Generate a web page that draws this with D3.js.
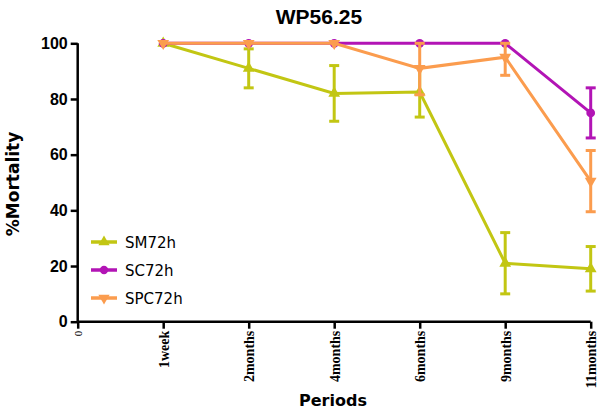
<!DOCTYPE html>
<html><head><meta charset="utf-8">
<script src="https://cdn.jsdelivr.net/npm/d3@7"></script>
<style>body{margin:0;background:#fff}svg{display:block}</style>
</head><body>
<script>
const periods = ["0","1week","2months","4months","6months","9months","11months"];
const periodIdx = [1,2,3,4,5,6];
const seriesNames = ["SM72h","SC72h","SPC72h"];
const smValues  = [100, 91, 82, 82.5, 21, 19];
const smErr     = [0, 7, 10, 9, 11, 8];
const scValues  = [100, 100, 100, 100, 100, 75];
const scErr     = [0, 0, 0, 0, 0, 9];
const spcValues = [100, 100, 100, 91, 95, 50.5];
const spcErr    = [0, 0, 0, 9.5, 6.5, 11];
const yTicks = [0,20,40,60,80,100];
const colors = {SM72h:"#c2c613", SC72h:"#b214b5", SPC72h:"#fb9c4e"};
const symbols = {SM72h:d3.symbolTriangle, SC72h:d3.symbolCircle, SPC72h:"down"};

const W=598,H=412;
const svg=d3.select("body").append("svg").attr("width",W).attr("height",H);
const x=d3.scaleLinear().domain([0,6]).range([77.7,590.7]);
const y=d3.scaleLinear().domain([0,100]).range([321.7,43.3]);

// title
svg.append("text").attr("x",319).attr("y",24).attr("text-anchor","middle")
  .style("font-family","Liberation Sans, Arial").style("font-weight","bold").style("font-size","21px").text("WP56.25");

// axes
const ya=svg.append("g").attr("transform",`translate(${x(0)},0)`)
  .call(d3.axisLeft(y).tickValues(yTicks).tickSize(7).tickPadding(3));
ya.select(".domain").attr("stroke-width",2.5).attr("d",`M0,${y(100)}V${y(0)}`);
ya.selectAll(".tick line").attr("stroke-width",2.5);
ya.selectAll("text").style("font-family","Liberation Sans, Arial").style("font-weight","bold").style("font-size","16px").attr("fill","#000");

const xa=svg.append("g").attr("transform",`translate(0,${y(0)})`)
  .call(d3.axisBottom(x).tickValues(d3.range(0,7)).tickFormat(i=>periods[i]).tickSize(7).tickPadding(0));
xa.select(".domain").attr("stroke-width",2.5).attr("d",`M${x(0)},0H${x(6)}`);
xa.selectAll(".tick line").attr("stroke-width",2.5);
xa.selectAll("text").attr("transform","rotate(-90)").attr("text-anchor","end")
  .attr("x",-9).attr("y",5).attr("dy",0)
  .style("font-family","Liberation Serif, Times New Roman").style("font-weight","bold").style("font-size","14px").attr("fill","#000");
xa.selectAll(".tick").filter(d=>d===0).select("text").style("font-size","11px").style("font-weight","normal").attr("y",4);

// axis titles
svg.append("text").attr("transform",`translate(19,184) rotate(-90)`).attr("text-anchor","middle")
  .style("font-family","DejaVu Sans").style("font-weight","bold").style("font-size","17px").text("%Mortality");
svg.append("text").attr("x",333).attr("y",406).attr("text-anchor","middle")
  .style("font-family","DejaVu Sans").style("font-weight","bold").style("font-size","16px").text("Periods");

const data=[
  {name:"SM72h",v:smValues,e:smErr},
  {name:"SC72h",v:scValues,e:scErr},
  {name:"SPC72h",v:spcValues,e:spcErr}
];
function sym(name,size){
  if(symbols[name]==="down") return d3.symbol().type(d3.symbolTriangle).size(size)();
  return d3.symbol().type(symbols[name]).size(size)();
}
const line=d3.line().x(d=>x(d[0])).y(d=>y(d[1]));
data.forEach(s=>{
  const g=svg.append("g");
  const pts=s.v.map((v,i)=>[periodIdx[i],v,s.e[i]]);
  g.append("path").attr("d",line(pts)).attr("fill","none").attr("stroke",colors[s.name]).attr("stroke-width",3);
  pts.forEach(p=>{
    if(p[2]>0){
      const cx=x(p[0]);
      const top=y(Math.min(100,p[1]+p[2])), bot=y(p[1]-p[2]);
      g.append("line").attr("x1",cx).attr("x2",cx).attr("y1",top).attr("y2",bot).attr("stroke",colors[s.name]).attr("stroke-width",3);
      [top,bot].forEach(yy=>g.append("line").attr("x1",cx-5).attr("x2",cx+5).attr("y1",yy).attr("y2",yy).attr("stroke",colors[s.name]).attr("stroke-width",3));
    }
    g.append("path").attr("d",sym(s.name,60))
      .attr("transform",`translate(${x(p[0])},${y(p[1])})`+(symbols[s.name]==="down"?" rotate(180)":""))
      .attr("fill",colors[s.name]);
  });
});

// legend
const leg=svg.append("g");
seriesNames.forEach((n,i)=>{
  const yy=242+i*28;
  leg.append("line").attr("x1",91).attr("x2",117).attr("y1",yy).attr("y2",yy).attr("stroke",colors[n]).attr("stroke-width",3.5);
  leg.append("path").attr("d",sym(n,55)).attr("transform",`translate(104,${yy})`+(symbols[n]==="down"?" rotate(180)":"")).attr("fill",colors[n]);
  leg.append("text").attr("x",125).attr("y",yy+6).style("font-family","DejaVu Sans").style("font-size","15px").attr("fill","#000").text(n);
});
</script>
</body></html>
